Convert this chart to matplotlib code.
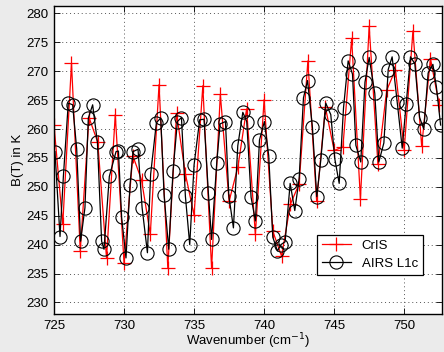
import matplotlib
matplotlib.use("Agg")
import matplotlib.pyplot as plt
import numpy as np

plt.rcParams['font.family'] = ['Liberation Sans', 'DejaVu Sans']

# CrIS: regular 0.625 cm-1 grid starting at 725
cris_wn = np.arange(725.0, 752.6, 0.625)
cris_bt = [260.7, 243.5, 271.4, 238.9, 262.0, 257.7, 237.7, 262.5, 236.8, 255.4,
           251.2, 241.8, 267.7, 236.0, 262.7, 252.3, 245.1, 267.5, 235.9, 266.0,
           247.5, 253.4, 263.5, 241.8, 265.1, 242.3, 238.0, 247.0, 250.5, 271.8,
           247.5, 263.8, 256.3, 256.9, 275.7, 247.9, 277.8, 253.9, 266.7, 270.3,
           256.4, 277.0, 257.0, 272.2, 264.2]

airs_wn = [725.07, 725.43, 725.67, 726.02, 726.33, 726.62, 726.90, 727.21, 727.45, 727.76,
           728.10, 728.40, 728.57, 728.95, 729.43, 729.60, 729.83, 730.14, 730.43, 730.64,
           731.00, 731.29, 731.67, 731.90, 732.31, 732.62, 732.86, 733.19, 733.50, 733.81,
           734.10, 734.38, 734.69, 735.00, 735.40, 735.71, 736.02, 736.25, 736.62, 736.86,
           737.24, 737.48, 737.81, 738.12, 738.48, 738.76, 739.07, 739.38, 739.67, 740.02,
           740.33, 740.62, 740.95, 741.20, 741.50, 741.86, 742.19, 742.50, 742.81, 743.10,
           743.45, 743.76, 744.05, 744.40, 744.76, 745.05, 745.36, 745.67, 746.00, 746.31,
           746.55, 746.90, 747.20, 747.50, 747.90, 748.19, 748.55, 748.86, 749.14, 749.50,
           749.86, 750.14, 750.45, 750.76, 751.10, 751.40, 751.71, 752.05, 752.30, 752.60]
airs_bt = [256.1, 241.4, 251.8, 264.5, 264.2, 256.6, 240.6, 246.4, 261.9, 264.2,
           257.7, 240.6, 239.2, 251.8, 256.1, 256.2, 244.7, 237.7, 250.4, 256.1,
           256.5, 246.4, 238.6, 252.2, 261.1, 261.9, 248.6, 239.2, 252.8, 261.3,
           262.0, 248.4, 240.0, 253.8, 261.6, 261.7, 249.0, 240.9, 254.2, 260.9,
           261.3, 248.5, 242.9, 257.1, 262.9, 261.3, 248.2, 244.1, 258.1, 261.3,
           255.4, 241.3, 238.9, 240.0, 240.5, 250.6, 245.9, 251.4, 265.4, 268.4,
           260.3, 248.3, 254.7, 264.5, 262.5, 254.8, 250.6, 263.7, 271.8, 269.5,
           257.2, 254.3, 268.1, 272.4, 266.2, 254.3, 257.6, 270.3, 272.5, 264.7,
           256.7, 264.3, 272.5, 271.3, 262.0, 260.0, 269.7, 271.2, 267.3, 260.7]

fig = plt.figure(figsize=(4.44, 3.52), dpi=100, facecolor='#ebebeb')
ax = fig.add_axes([0.1216, 0.108, 0.8739, 0.875])
ax.set_facecolor('white')

ax.plot(cris_wn, cris_bt, color='red', lw=0.9, marker='+', ms=10, mew=0.9, label='CrIS')
ax.plot(airs_wn, airs_bt, color='black', lw=0.9, marker='o', ms=9.5, mew=0.8,
        mfc='none', label='AIRS L1c')

ax.set_xlim(725, 752.7)
ax.set_ylim(228, 281.3)
ax.set_xticks(np.arange(725, 751, 5))
ax.set_yticks(np.arange(230, 281, 5))
ax.grid(True, linestyle=(0, (1, 3)), color='#555555', lw=0.7)
ax.tick_params(direction='in', top=True, right=True, labelsize=9.5, length=4,
               width=0.6, pad=4)
for s in ax.spines.values():
    s.set_linewidth(1.0)

ax.set_xlabel('Wavenumber (cm$^{-1}$)', fontsize=9.5, labelpad=0)
ax.set_ylabel('B(T) in K', fontsize=9.5, labelpad=2)

leg = ax.legend(loc='lower left', bbox_to_anchor=(0.677, 0.127), borderaxespad=0,
                fontsize=9.5, fancybox=False, framealpha=1, edgecolor='black',
                handlelength=2.2, borderpad=0.4, labelspacing=0.4)
leg.get_frame().set_linewidth(0.9)

fig.savefig('out.png', dpi=100, facecolor=fig.get_facecolor())
